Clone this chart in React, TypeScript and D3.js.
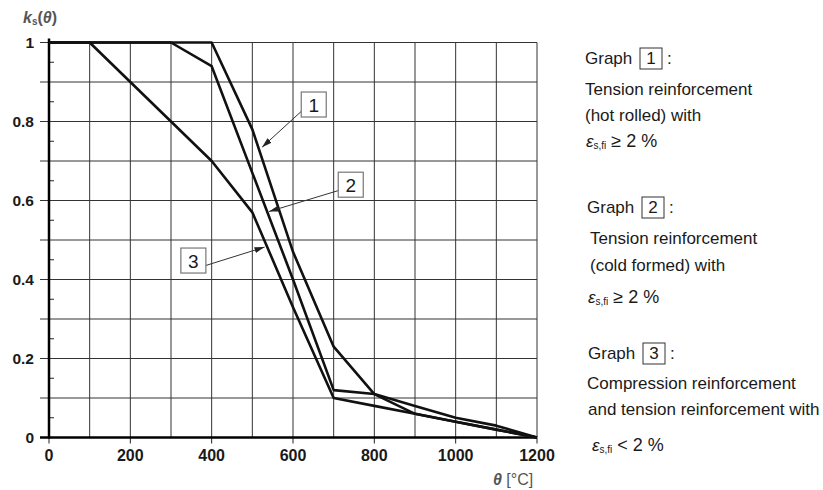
import React from "react";
import * as d3 from "d3";

// Reduction factor k_s(θ) for reinforcing steel at elevated temperature
const temps = [20, 100, 200, 300, 400, 500, 600, 700, 800, 900, 1000, 1100, 1200];
const curve1 = [1, 1, 1, 1, 1, 0.78, 0.47, 0.23, 0.11, 0.06, 0.04, 0.02, 0];
const curve2 = [1, 1, 1, 1, 0.94, 0.67, 0.4, 0.12, 0.11, 0.08, 0.05, 0.03, 0];
const curve3 = [1, 1, 0.9, 0.8, 0.7, 0.57, 0.33, 0.1, 0.08, 0.06, 0.04, 0.02, 0];
const seriesIds = ["1", "2", "3"];

const xTickLabels = [0, 200, 400, 600, 800, 1000, 1200];
const yTickLabels = [0, 0.2, 0.4, 0.6, 0.8, 1];
const xGrid = d3.range(0, 1201, 100);
const yGrid = d3.range(0, 11).map((i) => i / 10);
const yMinor = d3.range(0, 10).map((i) => i / 10 + 0.05);

const W = 823;
const H = 490;
const FONT = "'Liberation Sans', Arial, Helvetica, sans-serif";

export default function App() {
  const x = d3.scaleLinear().domain([0, 1200]).range([49, 537]);
  const y = d3.scaleLinear().domain([0, 1]).range([437.5, 42.5]);

  const series = [curve1, curve2, curve3];
  const line = d3
    .line<[number, number]>()
    .x((d) => x(d[0] === 20 ? 0 : d[0]))
    .y((d) => y(d[1]));

  // callout geometry in data units: box centre, arrow start, arrow tip
  const boxes = [
    { id: "1", c: [651, 0.843], from: [625, 0.83], to: [524, 0.735] },
    { id: "2", c: [742, 0.64], from: [711, 0.625], to: [541, 0.572] },
    { id: "3", c: [355, 0.448], from: [384, 0.435], to: [530, 0.482] },
  ];

  const gridColor = "#333";
  const textColor = "#1a1a1a";

  return (
    <svg width={W} height={H} style={{ display: "block", position: "absolute", left: 0, top: 0, background: "#fff" }}>
      <defs>
        <marker id="ah" viewBox="0 0 10 6" refX="10" refY="3" markerWidth="10" markerHeight="6" markerUnits="userSpaceOnUse" orient="auto">
          <path d="M0,0 L10,3 L0,6 Z" fill="#222" />
        </marker>
      </defs>

      {/* vertical grid */}
      {xGrid.map((v) => (
        <line key={"vx" + v} x1={x(v)} x2={x(v)} y1={y(0)} y2={y(1)} stroke={gridColor} strokeWidth={1} />
      ))}
      {/* horizontal grid, extended left as ticks */}
      {yGrid.map((v) => (
        <line key={"hy" + v} x1={40} x2={x(1200)} y1={y(v)} y2={y(v)} stroke={gridColor} strokeWidth={1} />
      ))}
      {/* minor ticks */}
      {yMinor.map((v) => (
        <line key={"my" + v} x1={x(0)} x2={x(0) + 5} y1={y(v)} y2={y(v)} stroke="#222" strokeWidth={1} />
      ))}
      {/* x ticks below axis */}
      {xTickLabels.map((v) => (
        <line key={"tx" + v} x1={x(v)} x2={x(v)} y1={y(0)} y2={y(0) + 6} stroke="#222" strokeWidth={1} />
      ))}

      {/* axes */}
      <line x1={40} x2={x(1200)} y1={y(0)} y2={y(0)} stroke="#000" strokeWidth={2.5} />
      <line x1={x(0)} x2={x(0)} y1={y(0) + 1} y2={y(1) - 4} stroke="#000" strokeWidth={2.5} />

      {/* curves */}
      {series.map((vals, i) => (
        <path
          key={"s" + seriesIds[i]}
          d={line(temps.map((t, j) => [t, vals[j]]))!}
          fill="none"
          stroke="#111"
          strokeWidth={2.6}
          strokeLinejoin="round"
        />
      ))}

      {/* y tick labels */}
      {yTickLabels.map((v) => (
        <text key={"yl" + v} x={34} y={y(v) + 5.5} textAnchor="end" fontFamily={FONT} fontWeight="bold" fontSize={15.5} fill={textColor}>
          {v === 0 || v === 1 ? String(v) : v.toFixed(1)}
        </text>
      ))}
      {/* x tick labels */}
      {xTickLabels.map((v) => (
        <text key={"xl" + v} x={x(v)} y={461} textAnchor="middle" fontFamily={FONT} fontWeight="bold" fontSize={16} fill={textColor}>
          {v}
        </text>
      ))}

      {/* axis titles */}
      <text x={23} y={23} fontFamily={FONT} fontWeight="bold" fontSize={16} fill="#555">
        <tspan fontStyle="italic">k</tspan>
        <tspan fontSize={10} dy={2}>s</tspan>
        <tspan dy={-2}>(</tspan>
        <tspan fontStyle="italic">θ</tspan>
        <tspan>)</tspan>
      </text>
      <text x={493} y={485} fontFamily={FONT} fontSize={16} fill="#555">
        <tspan fontStyle="italic" fontWeight="bold">θ</tspan>
        <tspan> [°C]</tspan>
      </text>

      {/* callouts */}
      {boxes.map((b) => (
        <g key={"cb" + b.id}>
          <line
            x1={x(b.from[0])}
            y1={y(b.from[1])}
            x2={x(b.to[0])}
            y2={y(b.to[1])}
            stroke="#333"
            strokeWidth={1}
            markerEnd="url(#ah)"
          />
          <rect x={x(b.c[0]) - 12.5} y={y(b.c[1]) - 12.5} width={25} height={25} fill="#fff" stroke="#777" strokeWidth={1.2} />
          <text x={x(b.c[0])} y={y(b.c[1]) + 7} textAnchor="middle" fontFamily={FONT} fontSize={19} fill={textColor}>
            {b.id}
          </text>
        </g>
      ))}

      {/* legend text */}
      <g fontFamily={FONT} fontSize={17} fill={textColor}>
        <LegendHead x={585} y={64} id="1" />
        <text x={585} y={95}>Tension reinforcement</text>
        <text x={585} y={121}>(hot rolled) with</text>
        <Eps x={586} y={147} rel="≥" />

        <LegendHead x={587} y={213} id="2" />
        <text x={590} y={244}>Tension reinforcement</text>
        <text x={590} y={271}>(cold formed) with</text>
        <Eps x={588} y={303} rel="≥" />

        <LegendHead x={588} y={359} id="3" />
        <text x={587} y={389}>Compression reinforcement</text>
        <text x={588} y={415}>and tension reinforcement with</text>
        <Eps x={592} y={451} rel="<" />
      </g>
    </svg>
  );
}

function LegendHead({ x, y, id }: { x: number; y: number; id: string }) {
  return (
    <g>
      <text x={x} y={y}>Graph</text>
      <rect x={x + 55} y={y - 16} width={22} height={21} fill="none" stroke="#333" strokeWidth={1} />
      <text x={x + 66} y={y} textAnchor="middle">{id}</text>
      <text x={x + 82} y={y}>:</text>
    </g>
  );
}

function Eps({ x, y, rel }: { x: number; y: number; rel: string }) {
  return (
    <text x={x} y={y}>
      <tspan fontStyle="italic">ε</tspan>
      <tspan fontSize={10} dy={2}>s,fi</tspan>
      <tspan dy={-2} fontSize={18}>{" " + rel + " 2 %"}</tspan>
    </text>
  );
}
